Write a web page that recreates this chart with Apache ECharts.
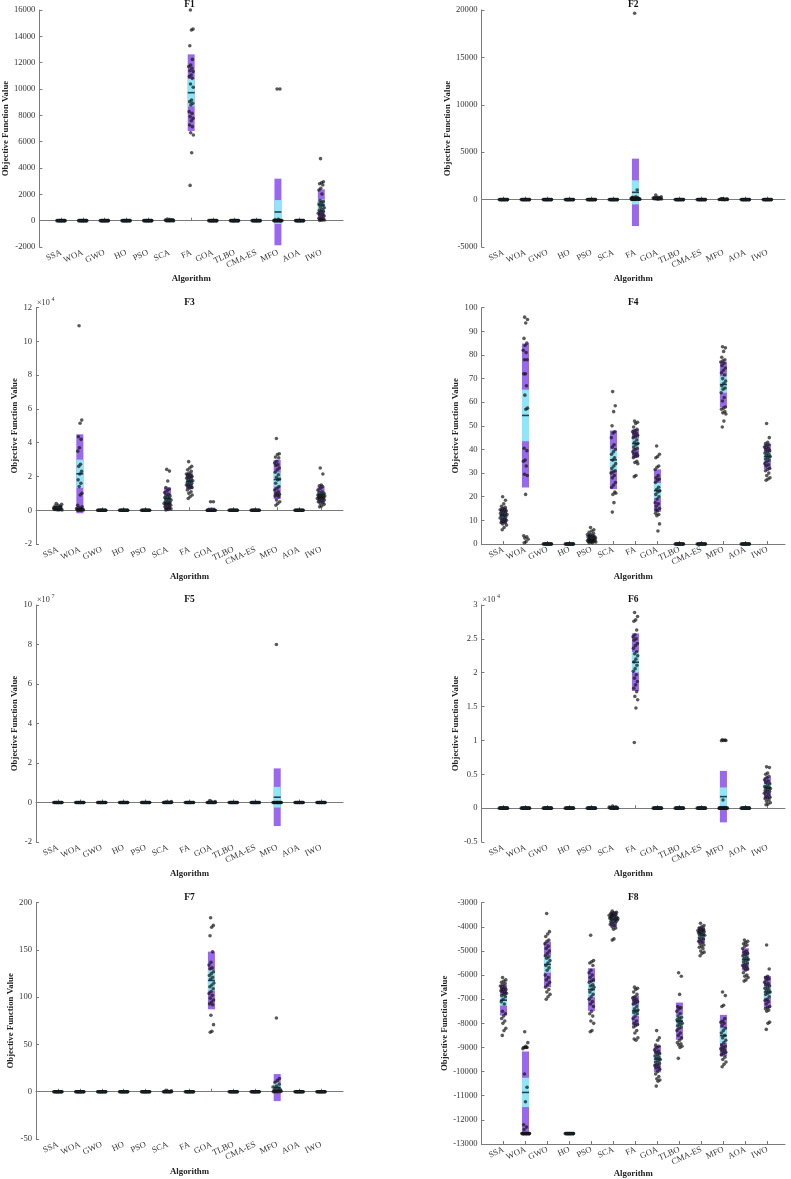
<!DOCTYPE html>
<html><head><meta charset="utf-8">
<script src="https://cdn.jsdelivr.net/npm/echarts@6.0.0/dist/echarts.min.js"></script>
<style>html,body{margin:0;padding:0;background:#fff}#c{width:791px;height:1179px}</style>
</head><body><div id="c"></div>
<script>
// ---------------- DATA ----------------
const algorithms = ['SSA','WOA','GWO','HO','PSO','SCA','FA','GOA','TLBO','CMA-ES','MFO','AOA','IWO'];
const functionNames = ['F1','F2','F3','F4','F5','F6','F7','F8'];
const Z = [0,0,0,0,0,0,0,0,0,0,0,0,0,0,0,0];

const f1Values = [
  Z, Z, Z, Z, Z,
  [0,0,5,10,20,30,50,80,120,60,15,0,0,0,0,0],
  [16000,14550,14480,13290,12250,11820,11700,11570,11390,11320,11060,10940,10810,10380,10130,9160,9040,8910,8780,8280,8150,7900,7770,7590,7270,7140,6680,6510,5160,2680],
  Z, Z, Z,
  [10000,10000,100,60,0,0,0,0,0,0,0,0,0,0,0,0,0,0],
  Z,
  [4710,2960,2880,2800,2710,2460,2330,2030,1520,1450,1380,1270,1180,1060,980,870,800,720,650,560,480,430,350,250,180,120,80,50,30,20]
];
const f1Mean = [0,0,0,0,0,30,9720,0,0,0,660,0,1190];
const f1Sd   = [0,0,0,0,0,40,2910,0,0,0,2530,0,1190];

const f2Values = [
  Z, Z, Z, Z, Z, Z,
  [19650,1010,300,250,200,180,150,120,100,90,80,70,60,50,40,40,30,30,20,20,150,100,80,60,200,120,90,50,30,20],
  [490,300,250,220,200,180,160,150,140,120,100,90,80,70,60,50],
  Z, Z,
  [80,60,50,40,30,20,10,5,60,40,20,10,0,0,0,0],
  Z, Z
];
const f2Mean = [0,0,0,0,0,0,765,160,0,0,30,0,0];
const f2Sd   = [0,0,0,0,0,0,3555,110,0,0,25,0,0];

const f3Values = [
  [4000,3500,3000,2500,2000,1800,1500,1200,1000,800,600,500,400,300,200,100,1500,2200,1300,900],
  [109300,53400,51500,43500,42000,37000,35000,27200,26000,23000,21500,18000,16000,14000,10000,9000,3000,2000,1500,1000,800,600,500,400,300,200,100,100,50,0],
  Z, Z, Z,
  [24200,23200,17300,13500,12500,11500,10500,9500,9000,8500,8000,7500,7000,6500,6000,5500,5000,4500,4200,4000,3800,3500,3000,2500,2000,1500,1000,800,500,200],
  [28800,26000,25000,24000,23000,22000,21500,21000,20500,20000,19500,19000,18500,18000,17500,17000,16500,16000,15500,15000,14500,14000,13500,13000,12000,11000,10000,9000,8000,7000],
  [5000,5000,0,0,0,0,0,0,0,0,0,0,0,0,0,0,0,0,0,0],
  Z, Z,
  [42500,33500,33000,31500,31000,29000,28000,27000,26500,25000,24000,22500,21000,19500,18500,18000,16000,14000,13000,12000,11000,10000,9500,9000,8500,8000,6000,5000,4000,3000],
  Z,
  [25000,21500,15000,14500,14000,13000,12000,11000,10500,10000,9500,9000,9000,8500,8500,8000,8000,7500,7500,7000,7000,6500,6000,5500,5000,4500,4000,3500,2500,2000]
];
const f3Mean = [1500,21600,0,0,0,6900,17200,330,0,0,18200,0,9300];
const f3Sd   = [1000,23400,0,0,0,6600,4700,1270,0,0,11600,0,4700];

const f4Values = [
  [20,18.5,17,16,15.5,15,14.5,14.5,14,14,13.5,13,13,12.5,12.5,12,12,11.5,11,11,10.5,10,10,9.5,9,9,8.5,8,7,6],
  [96,95,93.5,87,85,84,82,81,78,78,72,72,67,63,57.5,57,40.5,39.5,35.5,35,33,29.5,29,21,3.5,3,2.5,2,1,0.5],
  Z, Z,
  [7,6,5.5,5,4.5,4,4,3.5,3.5,3,3,3,2.5,2.5,2.5,2,2,2,2,1.5,1.5,1.5,1.5,1,1,1,1,0.8,0.5,0.5],
  [64.5,58.5,56,50,47.5,47,45,42,41,40,39,38,36.5,35.5,34,33,32,31,30.5,30,29,28,26,25,24,22,21,21.5,17.5,13.5],
  [52,51.5,51,49.5,48.5,48,47.5,47,46.5,46,45.5,45,44,43,42.5,42,41,40.5,40,39,38.5,38,37.5,37,36.5,35,34.5,34,29,28.5],
  [41.5,38,37,36.5,33,32.5,31.5,29,28,27.5,27,26,24,23,22.5,22,21,20,19,17.5,17,16,15,14,13,12.5,12,8.5,5.5,14.5],
  Z, Z,
  [83.5,83,81.5,79,78,77.5,77,76.5,75.5,74.5,73.5,72.5,71.5,70,69,68,67,66,65.5,64,62,60.5,58,57.5,57,56,55.5,55,52,49.5],
  Z,
  [51,45,43,42.5,42,41.5,41,40.5,40,39.5,39,38.5,38,37.5,37,36.5,36,35.5,35,34,33.5,33,32,31.5,31,30,29,28,27.5,27]
];
const f4Mean = [12.1,54.4,0,0,2.5,35.6,42.5,22.6,0,0,67.5,0,37.0];
const f4Sd   = [3.3,30.5,0,0,1.5,12.4,6.0,9.0,0,0,9.7,0,5.3];

const f5Values = [
  Z, Z, Z, Z, Z,
  [200000,500000,100000,0,0,0,0,0,0,0,0,0,0,0,0,0],
  Z,
  [1000000,500000,200000,0,0,0,0,0,0,0,0,0,0,0,0,0],
  Z, Z,
  [80000000,0,0,0,0,0,0,0,0,0,0,0,0,0,0,0],
  Z, Z
];
const f5Mean = [0,0,0,0,0,20000,0,50000,0,0,2670000,0,0];
const f5Sd   = [0,0,0,0,0,90000,0,200000,0,0,14600000,0,0];

const f6Values = [
  Z, Z, Z, Z, Z,
  [0,0,0,100,200,300,150,0,0,0,0,0,0,0,0,0],
  [28900,28300,27800,27600,26300,25600,25300,25000,24800,24300,24000,23600,23100,22800,22500,22000,21600,21100,20600,20200,19700,19200,18700,18200,17700,17200,16500,16000,14800,9700],
  Z, Z, Z,
  [10100,10000,10000,9950,10050,1200,0,0,0,0,0,0,0,0,0,0,0,0,0,0],
  Z,
  [6100,6000,5200,5000,4700,4500,4200,4000,3800,3600,3400,3200,3100,3000,2900,2800,2600,2500,2400,2200,2000,1800,1600,1500,1400,1200,1000,800,600,500]
];
const f6Mean = [0,0,0,0,0,50,21550,0,0,0,1700,0,3000];
const f6Sd   = [0,0,0,0,0,80,4250,0,0,0,3800,0,1600];

const f7Values = [
  Z, Z, Z, Z, Z,
  [1.5,1,0.5,0,0,0,0,0,0,0,0,0,0,0,0,0],
  Z,
  [184,176,174,165,148,137,134,131,130,127,125,123,121,119,115,113,111,109,106,104,102,99,97,95,93,92,81,71,64,63],
  Z, Z,
  [78,14,12,10,8,6,5,4,3,2,1.5,1,1,0.5,0.5,0,0,0,0,0],
  Z, Z
];
const f7Mean = [0,0,0,0,0,0.2,0,117.7,0,0,4.4,0,0];
const f7Sd   = [0,0,0,0,0,0.4,0,30.5,0,0,14.3,0,0];

const f8Values = [
  [-6100,-6200,-6250,-6300,-6350,-6400,-6450,-6500,-6550,-6600,-6600,-6650,-6700,-6700,-6750,-6800,-6850,-6900,-7000,-7100,-7200,-7500,-7600,-7700,-7800,-7900,-8000,-8200,-8300,-8500],
  [-8350,-8800,-8950,-9000,-9000,-9000,-9050,-9000,-10100,-10650,-11250,-12200,-12300,-12400,-12569,-12569,-12569,-12569,-12569,-12569,-12569,-12569,-12569,-12569,-12569,-12569,-12569,-12569,-12569,-12569],
  [-3450,-4200,-4300,-4400,-4550,-4600,-4700,-4800,-4900,-5000,-5100,-5200,-5250,-5300,-5400,-5500,-5600,-5700,-5800,-6000,-6100,-6200,-6300,-6400,-6500,-6600,-6700,-6800,-6900,-7000],
  [-12569,-12569,-12569,-12569,-12569,-12569,-12569,-12569,-12569,-12569,-12569,-12569,-12569,-12569,-12569,-12569],
  [-4350,-5400,-5450,-5500,-5600,-5800,-5900,-6000,-6100,-6200,-6250,-6300,-6400,-6450,-6500,-6600,-6700,-6800,-6900,-7000,-7100,-7200,-7300,-7500,-7600,-7700,-7900,-8000,-8300,-8350],
  [-3350,-3400,-3420,-3450,-3480,-3500,-3520,-3550,-3580,-3600,-3620,-3650,-3680,-3700,-3720,-3750,-3780,-3800,-3850,-3900,-3950,-4000,-4050,-4100,-3600,-3700,-3500,-3650,-4500,-4550],
  [-6500,-6550,-6600,-6700,-6800,-6900,-6950,-7000,-7050,-7100,-7150,-7200,-7300,-7400,-7450,-7500,-7550,-7600,-7700,-7800,-7900,-8000,-8050,-8100,-8150,-8300,-8400,-8600,-8700,-8650],
  [-8300,-8600,-8700,-8900,-8950,-9000,-9100,-9150,-9200,-9250,-9300,-9350,-9400,-9450,-9500,-9550,-9600,-9650,-9700,-9750,-9800,-9850,-9900,-10000,-10100,-10200,-10300,-10350,-10400,-10600],
  [-5900,-6050,-6800,-7300,-7350,-7400,-7500,-7600,-7700,-7750,-7800,-7850,-7900,-7950,-8000,-8050,-8100,-8150,-8200,-8300,-8400,-8500,-8600,-8700,-8800,-8850,-8900,-8950,-9000,-9450],
  [-3850,-3950,-4000,-4050,-4100,-4100,-4150,-4150,-4200,-4200,-4250,-4250,-4300,-4300,-4350,-4400,-4450,-4500,-4550,-4600,-4650,-4700,-4750,-4800,-4850,-4900,-5000,-5050,-5100,-5200],
  [-6700,-6850,-7250,-7300,-7800,-7900,-7950,-8000,-8100,-8200,-8300,-8400,-8500,-8600,-8700,-8800,-8900,-8950,-9000,-9050,-9100,-9150,-9200,-9250,-9300,-9400,-9500,-9600,-9700,-9800],
  [-4550,-4600,-4650,-4700,-4750,-4800,-4900,-5000,-5050,-5100,-5150,-5200,-5250,-5300,-5350,-5400,-5450,-5500,-5550,-5600,-5650,-5700,-5750,-5800,-5900,-6000,-6050,-6100,-6200,-6250],
  [-4750,-5750,-6050,-6100,-6150,-6200,-6300,-6350,-6400,-6450,-6500,-6550,-6600,-6650,-6700,-6750,-6800,-6900,-7000,-7050,-7100,-7200,-7300,-7350,-7400,-7450,-7500,-7950,-8000,-8250]
];
const f8Mean = [-7040,-10863,-5560,-12569,-6600,-3680,-7475,-9480,-7910,-4340,-8510,-5350,-6700];
const f8Sd   = [635,1697,945,5,883,310,614,550,773,345,862,462,669];

const yMin  = [-2000,-5000,-20000,0,-20000000,-5000,-50,-13000];
const yMax  = [16000,20000,120000,100,100000000,30000,200,-3000];
const yStep = [2000,5000,20000,10,20000000,5000,50,1000];
const yLabelDivisor = [1,1,10000,1,10000000,10000,1,1];
const exponentText = ['', '', '4', '', '7', '4', '', ''];
const sampleCount = 30;

// ---------------- LAYOUT / STYLE ----------------
const allValues = [f1Values,f2Values,f3Values,f4Values,f5Values,f6Values,f7Values,f8Values];
const allMean = [f1Mean,f2Mean,f3Mean,f4Mean,f5Mean,f6Mean,f7Mean,f8Mean];
const allSd = [f1Sd,f2Sd,f3Sd,f4Sd,f5Sd,f6Sd,f7Sd,f8Sd];

const panels = [
  {left:36,    top:10,    width:307,   height:237,   xMax:14,   yGap:28, xGap:27},
  {left:481.5, top:10,    width:303.5, height:237,   xMax:13.8, yGap:27, xGap:27},
  {left:36,    top:307.7, width:307,   height:236.3, xMax:14,   yGap:15, xGap:28},
  {left:481.5, top:307.7, width:303.5, height:236.3, xMax:13.8, yGap:18, xGap:28},
  {left:36,    top:605,   width:307,   height:237,   xMax:14,   yGap:15, xGap:27},
  {left:481.5, top:605,   width:303.5, height:237,   xMax:13.8, yGap:20, xGap:27},
  {left:36,    top:902.7, width:307,   height:236.3, xMax:14,   yGap:19, xGap:28},
  {left:481.5, top:902.7, width:303.5, height:241.3, xMax:13.8, yGap:30, xGap:23}
];
const PURPLE = '#9A68EE';
const CYAN = '#8EE6F9';
const POINT = 'rgba(20,20,20,0.88)';
const AXIS = '#7a7a7a';
const TXT = '#333333';
const FONT = '"Liberation Serif", "Times New Roman", serif';
const HALF_W = 0.16;
const tickValues = algorithms.map((_, i) => i + 1);

const grid = [], xAxis = [], yAxis = [], series = [], graphic = [];

panels.forEach((p, k) => {
  grid.push({left: p.left, top: p.top, width: p.width, height: p.height, containLabel: false});
  xAxis.push({
    type: 'value', gridIndex: k, min: 0, max: p.xMax,
    name: 'Algorithm', nameLocation: 'middle', nameGap: p.xGap,
    nameTextStyle: {fontFamily: FONT, fontWeight: 'bold', fontSize: 8.8, color: '#222'},
    axisLine: {show: true, lineStyle: {color: AXIS, width: 1}},
    axisTick: {show: true, inside: true, length: 3, customValues: tickValues, lineStyle: {color: AXIS}},
    axisLabel: {show: true, customValues: tickValues, rotate: 25, margin: 5,
      fontFamily: FONT, fontSize: 8.6, color: TXT,
      formatter: v => algorithms[Math.round(v) - 1] || ''},
    splitLine: {show: false}
  });
  const div = yLabelDivisor[k];
  yAxis.push({
    type: 'value', gridIndex: k, min: yMin[k], max: yMax[k], interval: yStep[k],
    name: 'Objective Function Value', nameLocation: 'middle', nameGap: p.yGap,
    nameTextStyle: {fontFamily: FONT, fontWeight: 'bold', fontSize: 8.8, color: '#222'},
    axisLine: {show: true, lineStyle: {color: AXIS, width: 1}},
    axisTick: {show: true, inside: true, length: 3, lineStyle: {color: AXIS}},
    axisLabel: {show: true, margin: 4, fontFamily: FONT, fontSize: 8.6, color: TXT,
      formatter: v => String(Math.round(v / div * 1000) / 1000)},
    splitLine: {show: false}
  });

  const values = allValues[k], mean = allMean[k], sd = allSd[k];
  const range = yMax[k] - yMin[k];
  const ciFactor = 1.96 / Math.sqrt(sampleCount);

  // boxes: mean ± SD (purple) and mean ± 95% CI (cyan)
  const boxData = mean.map((m, i) => [i + 1, m, sd[i], sd[i] * ciFactor]);
  series.push({
    type: 'custom', xAxisIndex: k, yAxisIndex: k, z: 1, silent: true,
    data: boxData,
    renderItem: (params, api) => {
      const x = api.value(0), m = api.value(1), s = api.value(2), c = api.value(3);
      if (!(s > 0)) return null;
      const a = api.coord([x - HALF_W, m + s]), b = api.coord([x + HALF_W, m - s]);
      const ca = api.coord([x - HALF_W, m + c]), cb = api.coord([x + HALF_W, m - c]);
      return {type: 'group', children: [
        {type: 'rect', shape: {x: a[0], y: a[1], width: b[0] - a[0], height: b[1] - a[1]}, style: {fill: PURPLE}},
        {type: 'rect', shape: {x: ca[0], y: ca[1], width: cb[0] - ca[0], height: cb[1] - ca[1]}, style: {fill: CYAN}}
      ]};
    }
  });

  // jittered raw points (spread widens where values are dense)
  const pts = [];
  values.forEach((arr, i) => {
    arr.forEach((v, j) => {
      let cnt = 0;
      arr.forEach(w => { if (Math.abs(w - v) < 0.025 * range) cnt++; });
      const dens = cnt / arr.length;
      const amp = 0.09 + 0.11 * Math.min(1, dens * 1.5);
      const u = ((j * 0.6180339887 + 0.31) % 1) * 2 - 1;
      pts.push([i + 1 + u * amp, v]);
    });
  });
  series.push({
    type: 'scatter', xAxisIndex: k, yAxisIndex: k, z: 2, silent: true, clip: false,
    symbol: 'circle', symbolSize: 3.6,
    itemStyle: {color: POINT},
    data: pts
  });

  // mean line
  series.push({
    type: 'custom', xAxisIndex: k, yAxisIndex: k, z: 3, silent: true,
    data: mean.map((m, i) => [i + 1, m]),
    renderItem: (params, api) => {
      const x = api.value(0), m = api.value(1);
      const a = api.coord([x - HALF_W, m]), b = api.coord([x + HALF_W, m]);
      return {type: 'line', shape: {x1: a[0], y1: a[1], x2: b[0], y2: b[1]},
        style: {stroke: 'rgba(10,40,50,0.85)', lineWidth: 1.6}};
    }
  });

  // title
  graphic.push({type: 'text', x: p.left + p.width / 2, y: p.top - 5,
    style: {text: functionNames[k], fontFamily: FONT, fontWeight: 'bold', fontSize: 9.5, fill: '#111',
      textAlign: 'center', textVerticalAlign: 'middle'}});
  // exponent label
  if (exponentText[k]) {
    graphic.push({type: 'text', x: p.left + 1, y: p.top - 5,
      style: {text: '×10', fontFamily: FONT, fontSize: 8.2, fill: TXT, textAlign: 'left', textVerticalAlign: 'middle'}});
    graphic.push({type: 'text', x: p.left + 15.5, y: p.top - 8.5,
      style: {text: exponentText[k], fontFamily: FONT, fontSize: 6, fill: TXT, textAlign: 'left', textVerticalAlign: 'middle'}});
  }
});

const chart = echarts.init(document.getElementById('c'), null, {renderer: 'canvas'});
chart.setOption({
  animation: false,
  backgroundColor: '#ffffff',
  grid, xAxis, yAxis, series, graphic
});
</script></body></html>
